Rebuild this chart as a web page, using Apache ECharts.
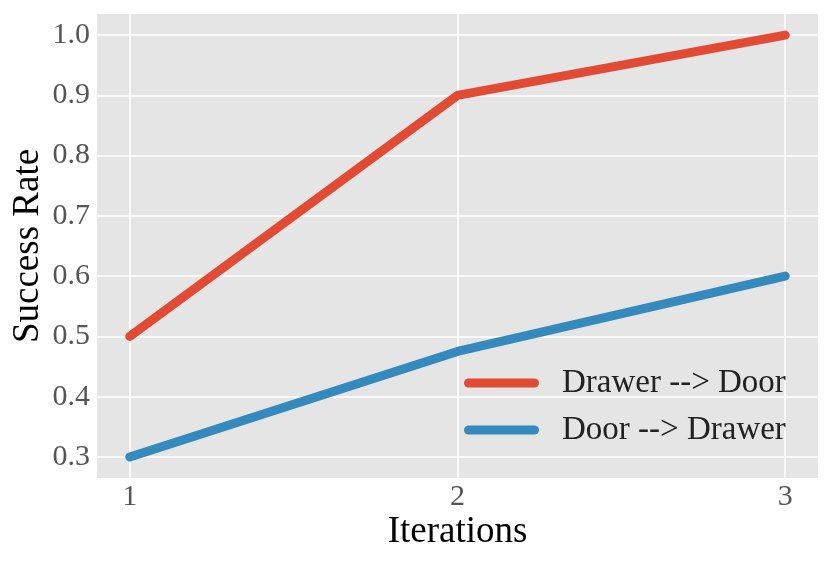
<!DOCTYPE html>
<html><head><meta charset="utf-8">
<script src="https://cdn.jsdelivr.net/npm/echarts@6/dist/echarts.min.js"></script>
<style>html,body{margin:0;padding:0;background:#fff;}#c{width:831px;height:563px;}</style>
</head><body><div id="c"></div>
<script>
const iterations = [1, 2, 3];
const drawerToDoor = [0.5, 0.9, 1.0];
const doorToDrawer = [0.3, 0.475, 0.6];
const xTicks = [1, 2, 3];
const yTicks = [0.3, 0.4, 0.5, 0.6, 0.7, 0.8, 0.9, 1.0];
const seriesNames = ['Drawer --> Door', 'Door --> Drawer'];

const font = '"Liberation Serif", "DejaVu Serif", serif';
const chart = echarts.init(document.getElementById('c'), null, {renderer: 'canvas'});
const capsule = 'path://M4.5,0 H70.5 A4.5,4.5 0 0 1 70.5,9 H4.5 A4.5,4.5 0 0 1 4.5,0 Z';
chart.setOption({
  animation: false,
  backgroundColor: '#ffffff',
  grid: {left: 97, right: 13, top: 14, bottom: 85, show: true, backgroundColor: '#e5e5e5', borderWidth: 0,
         containLabel: false, outerBoundsMode: 'none'},
  xAxis: {
    type: 'value', min: 0.9, max: 3.1,
    name: 'Iterations', nameLocation: 'middle', nameGap: 36, nameMoveOverlap: false,
    nameTextStyle: {fontFamily: font, fontSize: 37, color: '#000'},
    axisLine: {show: false}, axisTick: {show: false, customValues: xTicks},
    axisLabel: {customValues: xTicks, fontFamily: font, fontSize: 30, color: '#555', margin: 4},
    splitLine: {show: true, lineStyle: {color: '#fff', width: 1.5}}
  },
  yAxis: {
    type: 'value', min: 0.265, max: 1.035,
    name: 'Success Rate', nameLocation: 'middle', nameGap: 50, nameMoveOverlap: false,
    nameTextStyle: {fontFamily: font, fontSize: 37, color: '#000'},
    axisLine: {show: false}, axisTick: {show: false, customValues: yTicks},
    axisLabel: {customValues: yTicks, fontFamily: font, fontSize: 30, color: '#555', margin: 7,
      formatter: v => v.toFixed(1)},
    splitLine: {show: true, lineStyle: {color: '#fff', width: 1.5}}
  },
  legend: {
    orient: 'vertical', left: 459, top: 360, itemWidth: 75, itemHeight: 9, itemGap: 11,
    textStyle: {fontFamily: font, fontSize: 33, color: '#222', lineHeight: 36, padding: [0, 0, 0, 18]},
    data: [{name: seriesNames[0], icon: capsule}, {name: seriesNames[1], icon: capsule}]
  },
  series: [
    {name: seriesNames[0], type: 'line', data: iterations.map((x, i) => [x, drawerToDoor[i]]),
     showSymbol: false, symbol: 'none', clip: false, color: '#E24A33',
     lineStyle: {width: 9, color: '#E24A33', cap: 'round', join: 'round'}},
    {name: seriesNames[1], type: 'line', data: iterations.map((x, i) => [x, doorToDrawer[i]]),
     showSymbol: false, symbol: 'none', clip: false, color: '#348ABD',
     lineStyle: {width: 9, color: '#348ABD', cap: 'round', join: 'round'}}
  ]
});
</script></body></html>
